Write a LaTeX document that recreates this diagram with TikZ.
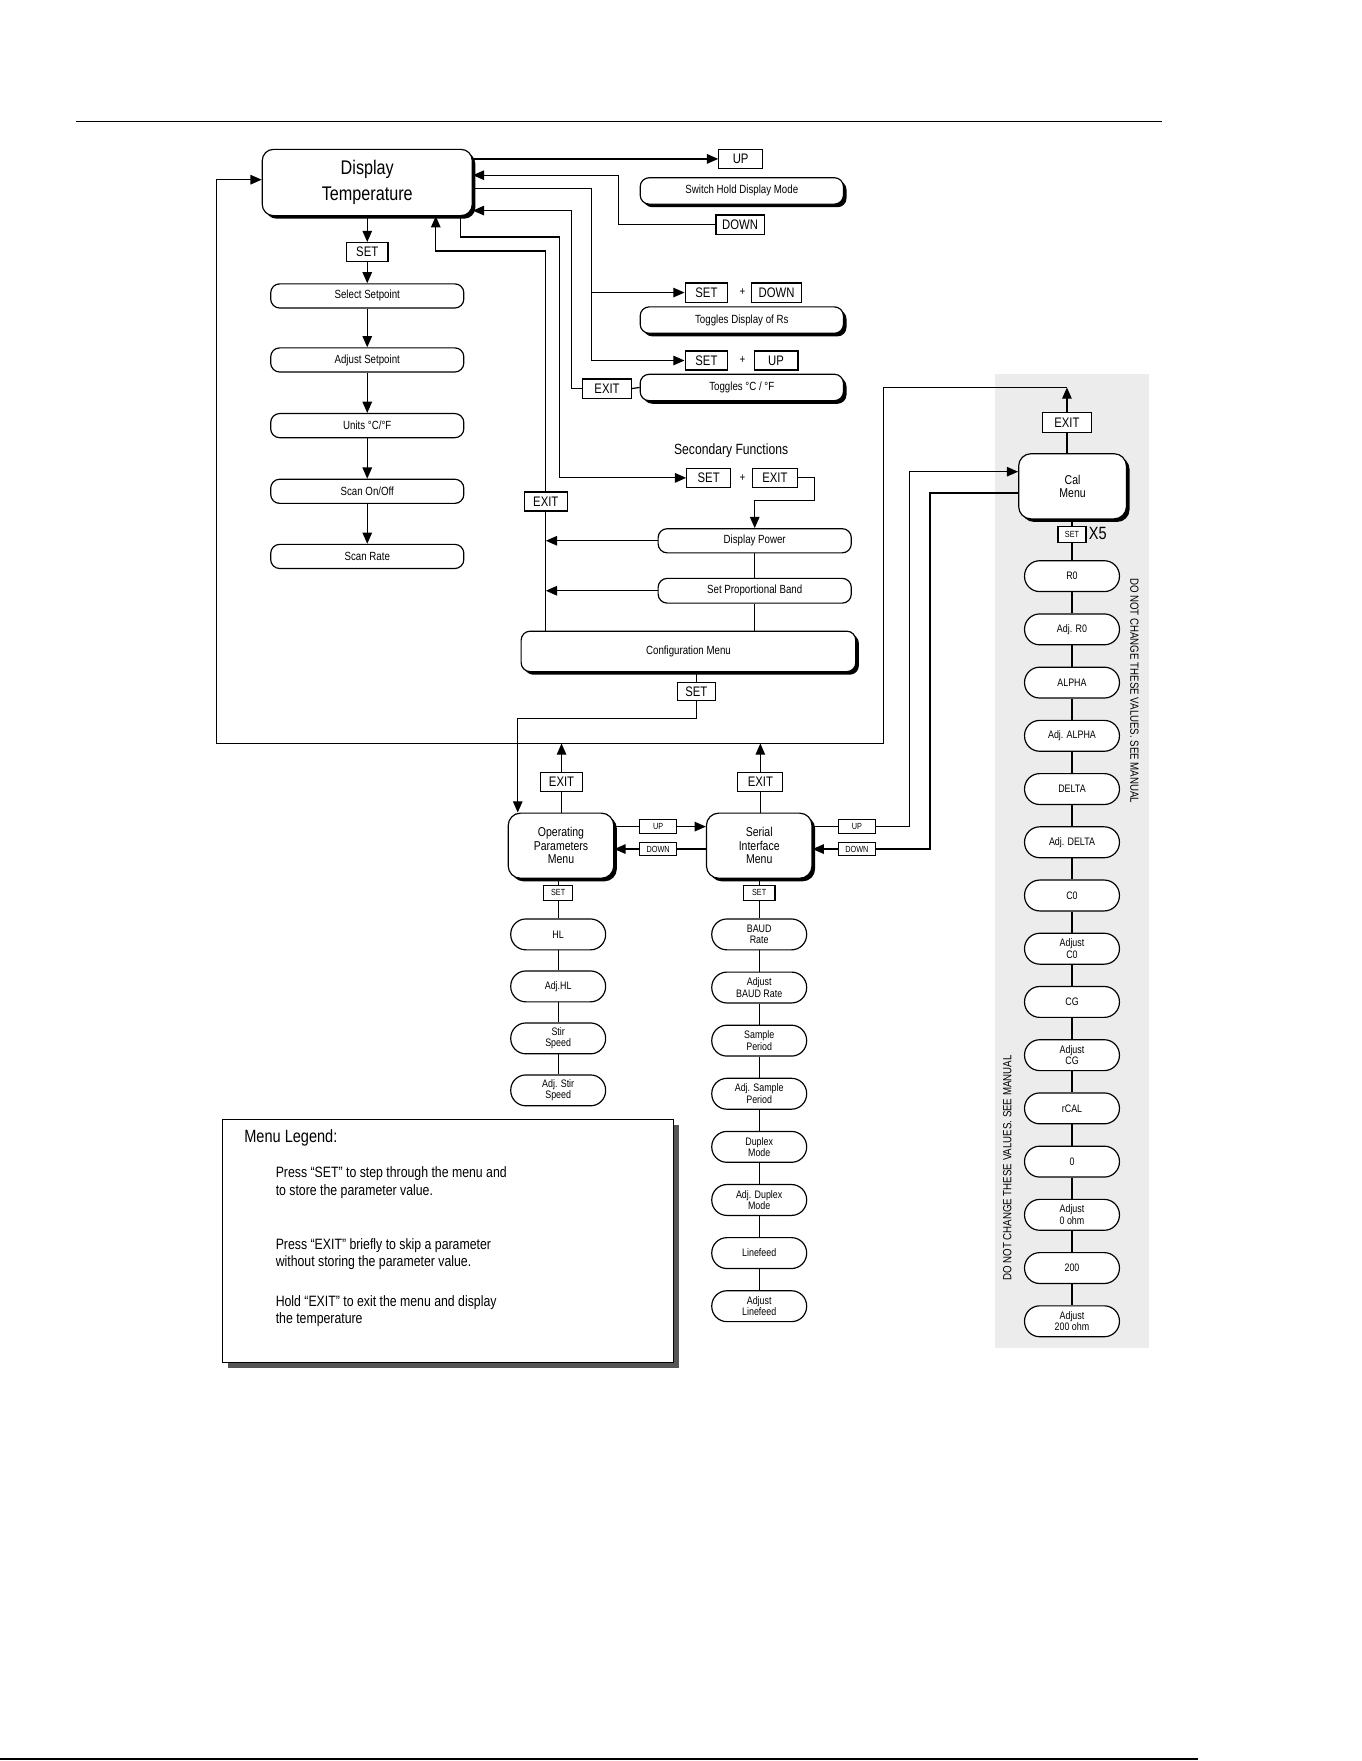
\documentclass[tikz,border=0pt]{standalone}
\usepackage{fontspec}
\setmainfont{Liberation Sans}[FakeStretch=0.82]
\usetikzlibrary{arrows.meta,shadows,positioning}
\definecolor{panelGray}{RGB}{236,236,236}
\definecolor{shadeGray}{RGB}{85,85,85}

\begin{document}
\begin{tikzpicture}[x=0.02cm, y=-0.02cm, line width=0.6pt, auto,
      >={Triangle[length=2mm,width=1.7mm]},
      every node/.style={inner sep=0pt, align=center},
      boxshadow/.style={drop shadow={shadow xshift=0.55mm, shadow yshift=-0.55mm, opacity=1, fill=black}},
      keybox/.style={rectangle, draw, fill=white, minimum width=7.6mm, minimum height=3.4mm,
                     font=\fontsize{7}{8}\selectfont},
      tinykey/.style={rectangle, draw, fill=white, minimum width=6.6mm, minimum height=2.4mm,
                      font=\fontsize{4.5}{5}\selectfont},
      itembox/.style={rectangle, draw, fill=white, rounded corners=1.6mm, minimum width=34.4mm,
                      minimum height=4.3mm, font=\fontsize{6}{7}\selectfont},
      notebox/.style={itembox, boxshadow, minimum width=36.2mm, minimum height=4.7mm},
      menubox/.style={rectangle, draw, fill=white, boxshadow, rounded corners=2.2mm, minimum width=18.8mm,
                      minimum height=11.6mm, font=\fontsize{6.5}{6.8}\selectfont},
      pillbox/.style={rectangle, draw, fill=white, rounded corners=2.7mm, minimum width=16.9mm,
                      minimum height=5.5mm, font=\fontsize{5.5}{5.8}\selectfont},
      plustext/.style={font=\fontsize{6}{7}\selectfont}]
      \useasboundingbox (0,0) rectangle (1212,1568);
      \fill[panelGray] (886,333) rectangle (1023,1200);
      \draw[line width=0.7pt] (68,108) -- (1035,108);
      \draw[line width=1.2pt] (0,1566) -- (1067,1566);

      \node[menubox, minimum width=37.4mm, minimum height=11.8mm, rounded corners=2mm,
            font=\fontsize{10}{13}\selectfont] (disp) at (327,162.5) {Display\\Temperature};
      \node[keybox, minimum width=7.4mm] (setA) at (327,224.5) {SET};
      \node[itembox] (sel) at (327,263.5) {Select Setpoint};
      \node[itembox, below of=sel, node distance=1.14cm] (adjsp) {Adjust Setpoint};
      \node[itembox, below of=adjsp, node distance=1.17cm] (units) {Units °C/°F};
      \node[itembox, below of=units, node distance=1.17cm] (scanon) {Scan On/Off};
      \node[itembox, below of=scanon, node distance=1.16cm] (scanrate) {Scan Rate};

      \node[keybox, minimum width=7.8mm] (upA) at (659.5,141.5) {UP};
      \node[notebox] (hold) at (660.5,170) {Switch Hold Display Mode};
      \node[keybox, minimum width=8.6mm] (downA) at (659,200) {DOWN};
      \node[keybox] (setB) at (629,260.5) {SET};
      \node[plustext] (plusB) at (661,260.5) {+};
      \node[keybox, minimum width=9mm] (downB) at (691.5,260.5) {DOWN};
      \node[notebox] (togrs) at (660.5,285) {Toggles Display of Rs};
      \node[keybox] (setC) at (629,321) {SET};
      \node[plustext] (plusC) at (661,321) {+};
      \node[keybox, minimum width=7.8mm] (upC) at (691,321) {UP};
      \node[keybox, minimum width=8.6mm] (exitA) at (540.5,346) {EXIT};
      \node[notebox] (togcf) at (660.5,345) {Toggles °C / °F};

      \node[font=\fontsize{7.5}{9}\selectfont] (sectitle) at (651,401) {Secondary Functions};
      \node[keybox, minimum width=7.8mm] (setD) at (631,425.5) {SET};
      \node[plustext] (plusD) at (661,425.5) {+};
      \node[keybox, minimum width=8mm] (exitD) at (690,425.5) {EXIT};
      \node[itembox] (dpow) at (672,481.5) {Display Power};
      \node[itembox, minimum height=4.4mm] (spb) at (672,526) {Set Proportional Band};
      \node[keybox] (exitB) at (486,446.5) {EXIT};
      \node[itembox, boxshadow, minimum width=59.6mm, minimum height=7.2mm] (conf) at (613,580) {Configuration Menu};
      \node[keybox, minimum width=6.8mm, minimum height=3.2mm] (setE) at (620,616) {SET};

      \node[menubox] (opm) at (499.5,753) {Operating\\Parameters\\Menu};
      \node[keybox] (exitO) at (500,696.5) {EXIT};
      \node[tinykey] (upO) at (586,736) {UP};
      \node[tinykey] (downO) at (586,756) {DOWN};
      \node[menubox] (serm) at (676,753) {Serial\\Interface\\Menu};
      \node[keybox, minimum width=8mm] (exitS) at (677,696.5) {EXIT};
      \node[tinykey] (upS) at (763,736) {UP};
      \node[tinykey] (downS) at (763,756) {DOWN};
      \node[menubox, minimum width=19.2mm] (calm) at (955,433) {Cal\\Menu};
      \node[keybox, minimum width=8.8mm, minimum height=3.6mm] (exitC) at (950,376) {EXIT};
      \node[tinykey, minimum width=5mm, minimum height=2.8mm] (setF) at (954.5,476) {SET};
      \node[anchor=west, font=\fontsize{9}{10}\selectfont] (xfive) at (969,475) {X5};

      \node[tinykey, minimum width=5.2mm, minimum height=2.7mm] (setO) at (497,795) {SET};
      \begin{scope}[node distance=0.926cm]
      \node[pillbox] (hl) at (497,832) {HL};
      \node[pillbox, below of=hl] (adjhl) {Adj.HL};
      \node[pillbox, below of=adjhl] (stir) {Stir\\Speed};
      \node[pillbox, below of=stir] (adjstir) {Adj. Stir\\Speed};
      \end{scope}

      \node[tinykey, minimum width=5.6mm, minimum height=2.7mm] (setS) at (676,795) {SET};
      \begin{scope}[node distance=0.946cm]
      \node[pillbox] (baud) at (676,832) {BAUD\\Rate};
      \node[pillbox, below of=baud] (adjbaud) {Adjust\\BAUD Rate};
      \node[pillbox, below of=adjbaud] (sample) {Sample\\Period};
      \node[pillbox, below of=sample] (adjsample) {Adj. Sample\\Period};
      \node[pillbox, below of=adjsample] (duplex) {Duplex\\Mode};
      \node[pillbox, below of=duplex] (adjduplex) {Adj. Duplex\\Mode};
      \node[pillbox, below of=adjduplex] (linefeed) {Linefeed};
      \node[pillbox, below of=linefeed] (adjlinefeed) {Adjust\\Linefeed};
      \end{scope}

      \begin{scope}[node distance=0.948cm]
      \node[pillbox] (r0) at (954.5,513) {R0};
      \node[pillbox, below of=r0] (adjr0) {Adj. R0};
      \node[pillbox, below of=adjr0] (alpha) {ALPHA};
      \node[pillbox, below of=alpha] (adjalpha) {Adj. ALPHA};
      \node[pillbox, below of=adjalpha] (delta) {DELTA};
      \node[pillbox, below of=delta] (adjdelta) {Adj. DELTA};
      \node[pillbox, below of=adjdelta] (czero) {C0};
      \node[pillbox, below of=czero] (adjczero) {Adjust\\C0};
      \node[pillbox, below of=adjczero] (cg) {CG};
      \node[pillbox, below of=cg] (adjcg) {Adjust\\CG};
      \node[pillbox, below of=adjcg] (rcal) {rCAL};
      \node[pillbox, below of=rcal] (zero) {0};
      \node[pillbox, below of=zero] (adjzero) {Adjust\\0 ohm};
      \node[pillbox, below of=adjzero] (twohund) {200};
      \node[pillbox, below of=twohund] (adjtwohund) {Adjust\\200 ohm};
      \end{scope}
      \node[rotate=-90, font=\fontsize{6}{7}\selectfont] (warnA) at (1010,615) {DO NOT CHANGE THESE VALUES. SEE MANUAL};
      \node[rotate=90, font=\fontsize{6}{7}\selectfont] (warnB) at (897,1040) {DO NOT CHANGE THESE VALUES. SEE MANUAL};

      \node[rectangle, draw, fill=white, minimum width=80.4mm, minimum height=43.2mm,
            drop shadow={shadow xshift=1mm, shadow yshift=-1mm, opacity=1, fill=shadeGray}] (legend) at (399,1105) {};
      \node[anchor=west, font=\fontsize{9}{10}\selectfont] (legtitle) at (217,1013) {Menu Legend:};
      \node[anchor=west, align=left, font=\fontsize{7.6}{8.8}\selectfont] (legset) at (245,1053)
            {Press “SET” to step through the menu and\\to store the parameter value.};
      \node[anchor=west, align=left, font=\fontsize{7.6}{8.8}\selectfont] (legexit) at (245,1116.5)
            {Press “EXIT” briefly to skip a parameter\\without storing the parameter value.};
      \node[anchor=west, align=left, font=\fontsize{7.6}{8.8}\selectfont] (leghold) at (245,1167.5)
            {Hold “EXIT” to exit the menu and display\\the temperature};

      \coordinate (calTop) at (950,345);
      \coordinate (loopLow) at (787,662);

      \draw[->] (setA) -- (sel);
      \draw[->] (disp.south -| setA) -- (setA.north);
      \draw[->] (sel) -- (adjsp);
      \draw[->] (adjsp) -- (units);
      \draw[->] (units) -- (scanon);
      \draw[->] (scanon) -- (scanrate);

      \draw[->] (disp.east |- upA) -- (upA.west);
      \draw[->] (downA.west) -| (551,156) -- (disp.east |- 0,156);
      \draw[->] (disp.east |- 0,168) -| (527,0 |- setC) -- (setC.west);
      \draw[->] (527,0 |- setB) -- (setB.west);
      \draw[->] (exitA.west) -| (509,187.5) -- (disp.east |- 0,187.5);
      \draw (exitA.east) -- (togcf.west);
      \draw[->] (410,0 |- disp.south) |- (498,211) |- (setD.west);

      \draw[->] (exitD.east) -| (725,446) -| (dpow.north);
      \draw (dpow) -- (spb);
      \draw (spb.south) -- (spb.south |- conf.north);
      \draw[->] (dpow.west) -- (486,0 |- dpow.west);
      \draw[->] (spb.west) -- (486,0 |- spb.west);
      \draw (486,0 |- conf.north) -- (exitB.south);
      \draw[->] (exitB.north) |- (388,223.5) -- (388,0 |- disp.south);
      \draw (conf.south -| setE) -- (setE.north);
      \draw[->] (setE.south) |- (461,640) -- (461,0 |- opm.north);

      \draw[->] (calTop) -| (loopLow) -| (193,160) -- (disp.west |- 0,160);
      \draw (calm.north -| exitC) -- (exitC.south);
      \draw[->] (exitC.north) -- (calTop);
      \draw (opm.north -| exitO) -- (exitO.south);
      \draw[->] (exitO.north) -- (exitO.north |- loopLow);
      \draw (serm.north -| exitS) -- (exitS.south);
      \draw[->] (exitS.north) -- (exitS.north |- loopLow);

      \draw (opm.east |- upO) -- (upO.west);
      \draw[->] (upO.east) -- (serm.west |- upO);
      \draw (serm.west |- downO) -- (downO.east);
      \draw[->] (downO.west) -- (opm.east |- downO);
      \draw (serm.east |- upS) -- (upS.west);
      \draw[->] (upS.east) -| (810,420) -- (calm.west |- 0,420);
      \draw[->] (downS.west) -- (serm.east |- downS);
      \draw (downS.east) -| (828,439) -- (calm.west |- 0,439);

      \draw (opm.south -| setO) -- (setO.north);
      \draw (setO) -- (hl);
      \draw (hl) -- (adjhl);
      \draw (adjhl) -- (stir);
      \draw (stir) -- (adjstir);

      \draw (serm.south -| setS) -- (setS.north);
      \draw (setS) -- (baud);
      \draw (baud) -- (adjbaud);
      \draw (adjbaud) -- (sample);
      \draw (sample) -- (adjsample);
      \draw (adjsample) -- (duplex);
      \draw (duplex) -- (adjduplex);
      \draw (adjduplex) -- (linefeed);
      \draw (linefeed) -- (adjlinefeed);

      \draw (calm.south -| setF) -- (setF.north);
      \draw (setF) -- (r0);
      \draw (r0) -- (adjr0);
      \draw (adjr0) -- (alpha);
      \draw (alpha) -- (adjalpha);
      \draw (adjalpha) -- (delta);
      \draw (delta) -- (adjdelta);
      \draw (adjdelta) -- (czero);
      \draw (czero) -- (adjczero);
      \draw (adjczero) -- (cg);
      \draw (cg) -- (adjcg);
      \draw (adjcg) -- (rcal);
      \draw (rcal) -- (zero);
      \draw (zero) -- (adjzero);
      \draw (adjzero) -- (twohund);
      \draw (twohund) -- (adjtwohund);
    \end{tikzpicture}
\end{document}
